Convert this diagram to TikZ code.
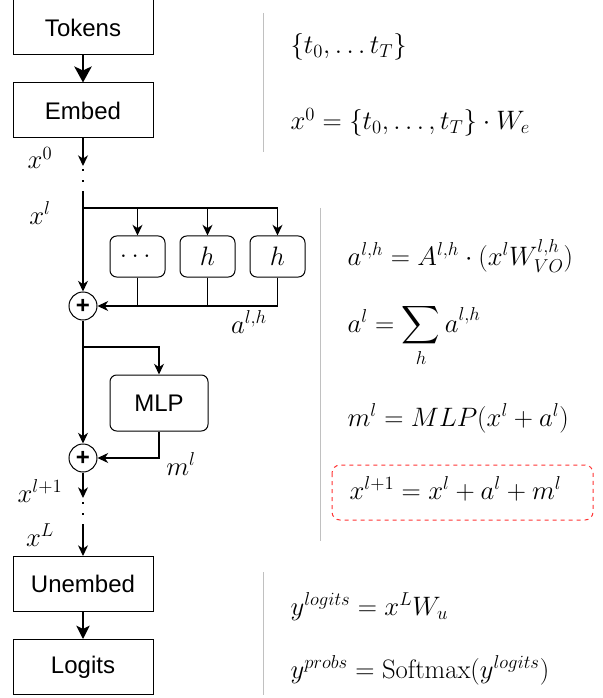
\documentclass[tikz,border=0pt]{standalone}
\usepackage{fix-cm}
\usepackage{amsmath,amssymb}
\usepackage{fontspec}
\newfontfamily\sansf{Liberation Sans}
\usepackage{tikz}
\usetikzlibrary{arrows.meta}
\usepackage{xcolor}
\definecolor{sepgray}{RGB}{192,192,192}
\definecolor{hlred}{RGB}{255,51,51}

\begin{document}
\begin{tikzpicture}[x=0.75pt,y=-0.75pt,>={Stealth[length=8pt,width=7.5pt,inset=2.5pt]},line width=0.9pt,
  blk/.style={draw,line width=0.75pt,minimum width=105pt,minimum height=41.25pt,inner sep=0pt,font=\sansf\fontsize{18}{22}\selectfont},
  headbox/.style={draw,line width=0.75pt,rounded corners=5pt,minimum width=41.25pt,minimum height=30.75pt,inner sep=0pt,font=\fontsize{20}{24}\selectfont},
  mlpbox/.style={headbox,minimum width=73.5pt,minimum height=42pt,font=\sansf\fontsize{18}{22}\selectfont},
  plus/.style={circle,draw,line width=0.75pt,minimum size=21pt,inner sep=0pt,font=\sansf\bfseries\fontsize{18}{18}\selectfont},
  lbl/.style={inner sep=0pt,font=\fontsize{20}{24}\selectfont},
  eq/.style={anchor=base west,inner sep=0pt,font=\fontsize{20}{24}\selectfont},
  dotline/.style={line width=1.6pt,dash pattern=on 1.6pt off 6.8pt},
  sep/.style={sepgray,line width=0.75pt}]
\useasboundingbox (0,0) rectangle (602,698);
% left column
\node[blk] (tokens) at (83,27.5) {Tokens};
\node[blk] (embed) at (83,110.5) {Embed};
\draw[line width=2pt,-{Stealth[length=12pt,width=13pt,inset=3pt]}] (tokens) -- (embed);
\coordinate (x0end) at (83,166);
\coordinate (dotbeg) at (83,169);
\coordinate (dotend) at (83,194);
\coordinate (xl) at (83,208);
\draw[->] (embed) -- (x0end);
\draw[dotline] (dotbeg) -- (dotend);
\draw (dotend) -- (xl);
\node[lbl] (x0lbl) at (40,158) {$x^0$};
\node[lbl] (xllbl) at (40,213) {$x^l$};
% heads
\node[headbox] (hdots) at (137.5,256.5) {$\dots$};
\node[headbox] (h1) at (207.5,256.5) {$h$};
\node[headbox] (h2) at (277.5,256.5) {$h$};
\node[plus] (plus1) at (83,306) {+};
\draw (xl) -- (xl -| h2);
\foreach \n in {hdots,h1,h2}
  \draw[->] (xl -| \n) -- (\n.north);
\draw[->] (xl) -- (plus1);
\foreach \n in {hdots,h1,h2}
  \draw (\n.south) -- (\n.south |- plus1);
\draw[->] (h2.south |- plus1) -- (plus1);
\node[lbl] (albl) at (249,322) {$a^{l,h}$};
% mlp
\node[mlpbox] (mlp) at (159,403) {MLP};
\node[plus] (plus2) at (83,458) {+};
\coordinate (br) at (83,347);
\draw[->] (plus1) -- (plus2);
\draw[->] (br) -| (mlp);
\draw[->] (mlp) |- (plus2);
\node[lbl] (mlbl) at (181,464) {$m^l$};
% output
\node[blk] (unembed) at (83,584) {Unembed};
\node[blk] (logits) at (83,667) {Logits};
\coordinate (x1end) at (83,498);
\coordinate (dotbeg2) at (83,502);
\coordinate (dotend2) at (83,527);
\draw[->] (plus2) -- (x1end);
\draw[dotline] (dotbeg2) -- (dotend2);
\draw[->] (dotend2) -- (unembed);
\draw[line width=1.5pt,-{Stealth[length=10pt,width=10pt,inset=2.5pt]}] (unembed) -- (logits);
\node[lbl] (x1lbl) at (40,491) {$x^{l+1}$};
\node[lbl] (xLlbl) at (40,535) {$x^L$};
% separators
\draw[sep] (263,13) -- (263,152);
\draw[sep] (320,208) -- (320,541);
\draw[sep] (263,572) -- (263,695);
% equations
\node[eq] (e1) at (290,54) {$\{t_0, \dots t_T\}$};
\node[eq] (e2) at (290,130) {$x^0 = \{t_0, \dots, t_T\} \cdot W_e$};
\node[eq] (e3) at (347,265) {$a^{l,h} = A^{l,h} \cdot (x^l W^{l,h}_{VO})$};
\node[eq] (e4) at (347,332) {$a^l = \displaystyle\sum_h a^{l,h}$};
\node[eq] (e5) at (347,426) {$m^l = MLP(x^l + a^l)$};
\node[eq] (e6) at (349,499) {$x^{l+1} = x^l + a^l + m^l$};
\draw[hlred,line width=0.75pt,dashed,rounded corners=6pt] (332,465) rectangle (593,520);
\node[eq] (e7) at (290,615) {$y^{logits} = x^L W_u$};
\node[eq] (e8) at (290,678) {$y^{probs} = \mathrm{Softmax}(y^{logits})$};
\end{tikzpicture}
\end{document}
